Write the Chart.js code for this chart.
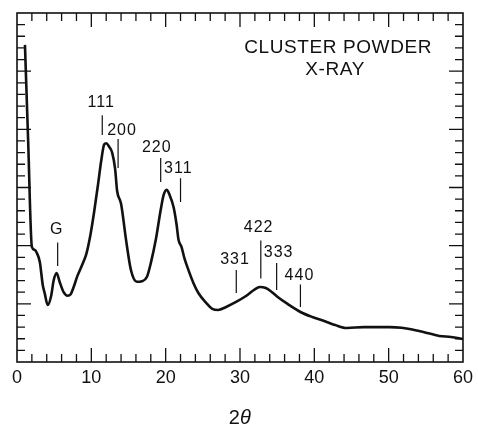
<!DOCTYPE html>
<html>
<head>
<meta charset="utf-8">
<script src="https://cdn.jsdelivr.net/npm/chart.js@4.4.1/dist/chart.umd.min.js"></script>
<style>
  body { margin: 0; background: #fff; }
  #wrap { width: 478px; height: 428px; }
</style>
</head>
<body>
<div id="wrap"><canvas id="xrd"></canvas></div>
<script>
// 2-theta values (deg) and intensity (arb. units, 0..30 frame)
const twoTheta = [1.07, 1.5, 2.0, 2.4, 2.67, 3.07, 3.47, 3.73, 4.13, 4.6, 4.93, 5.33, 5.73, 6.27, 6.8, 7.2, 7.6, 8.13, 8.8, 9.33,
  9.87, 10.4, 10.93, 11.33, 11.73, 12.0, 12.4, 12.8, 13.2, 13.47, 14.0, 14.67, 15.33, 16.13, 16.8, 17.47, 18.0, 18.67, 19.33, 19.73,
  20.13, 20.53, 21.07, 21.47, 21.73, 22.13, 22.53, 23.07, 23.73, 24.4, 25.47, 26.27, 27.07, 28.13, 29.47, 30.8, 31.87, 32.67, 33.47, 34.27,
  35.07, 36.4, 38.13, 39.73, 41.33, 42.8, 44.4, 46.67, 48.4, 50.13, 51.73, 52.8, 54.67, 56.8, 58.4, 60];
const intensity = [27.26, 19.0, 9.9, 9.63, 9.37, 8.6, 6.6, 5.9, 4.9, 5.7, 7.0, 7.65, 6.9, 6.0, 5.7, 5.8, 6.4, 7.4, 8.4, 9.3,
  10.9, 13.0, 15.4, 17.3, 18.7, 18.8, 18.5, 18.0, 16.6, 14.7, 13.6, 10.5, 7.9, 6.9, 6.95, 7.3, 8.5, 10.5, 13.07, 14.36,
  14.8, 14.36, 13.3, 11.8, 10.5, 9.9, 8.9, 7.9, 6.8, 5.93, 5.07, 4.56, 4.47, 4.73, 5.16, 5.67, 6.19, 6.45, 6.36, 6.02,
  5.59, 4.99, 4.3, 3.87, 3.53, 3.18, 2.92, 3.0, 3.0, 3.0, 2.95, 2.84, 2.58, 2.24, 2.15, 1.98];

// reflection labels: marker x, marker line from/to (y), label position
const peakNames = ["G", "111", "200", "220", "311", "331", "422", "333", "440"];
const peakX     = [5.47, 11.47, 13.6, 19.33, 22.0, 29.5, 32.8, 34.93, 38.13];
const peakTop   = [10.28, 21.2, 19.17, 17.54, 15.8, 7.91, 10.45, 8.51, 6.66];
const peakBot   = [8.25, 19.51, 16.68, 15.47, 13.75, 5.93, 7.18, 6.19, 4.73];
const labelX    = [5.33, 11.33, 14.13, 18.8, 21.7, 29.33, 32.5, 35.2, 38.0];
const labelY    = [11.35, 22.3, 19.86, 18.4, 16.6, 8.77, 11.52, 9.37, 7.39];

const titleLines = ["CLUSTER POWDER", "X-RAY"];
const titleX = [43.2, 42.8];
const titleY = [27.0, 25.1];

const ink = "#111";

// frame, inward ticks, reflection markers and title
const decor = {
  id: "decor",
  afterDatasetsDraw(chart) {
    const ctx = chart.ctx;
    const a = chart.chartArea;
    const xs = chart.scales.x;
    const ys = chart.scales.y;
    ctx.save();
    ctx.strokeStyle = ink;
    ctx.lineWidth = 1.6;
    ctx.strokeRect(a.left, a.top, a.right - a.left, a.bottom - a.top);

    ctx.lineWidth = 1.3;
    ctx.beginPath();
    for (let v = 2; v < 60; v += 2) {
      const px = xs.getPixelForValue(v);
      const len = v % 10 === 0 ? 14 : 8;
      ctx.moveTo(px, a.bottom); ctx.lineTo(px, a.bottom - len);
      ctx.moveTo(px, a.top); ctx.lineTo(px, a.top + len);
    }
    for (let v = 1; v < 30; v++) {
      const py = ys.getPixelForValue(v);
      const len = v % 5 === 0 ? 14 : 8;
      ctx.moveTo(a.left, py); ctx.lineTo(a.left + len, py);
      ctx.moveTo(a.right, py); ctx.lineTo(a.right - len, py);
    }
    ctx.stroke();

    // reflection markers
    ctx.lineWidth = 1.2;
    ctx.beginPath();
    peakX.forEach((x, i) => {
      const px = xs.getPixelForValue(x);
      ctx.moveTo(px, ys.getPixelForValue(peakTop[i]));
      ctx.lineTo(px, ys.getPixelForValue(peakBot[i]));
    });
    ctx.stroke();

    ctx.fillStyle = ink;
    ctx.textAlign = "center";
    ctx.textBaseline = "middle";
    ctx.font = "16px 'Liberation Sans'";
    ctx.letterSpacing = "1px";
    peakNames.forEach((n, i) => {
      ctx.fillText(n, xs.getPixelForValue(labelX[i]), ys.getPixelForValue(labelY[i]));
    });

    ctx.font = "19px 'Liberation Sans'";
    ctx.letterSpacing = "0.6px";
    titleLines.forEach((t, i) => {
      ctx.fillText(t, xs.getPixelForValue(titleX[i]), ys.getPixelForValue(titleY[i]));
    });
    ctx.letterSpacing = "0px";

    // axis title 2θ
    const cx = (a.left + a.right) / 2;
    const ty = 418;
    ctx.font = "20px 'Liberation Sans'";
    ctx.textAlign = "right";
    ctx.fillText("2", cx, ty);
    ctx.font = "italic 20px 'Liberation Sans'";
    ctx.textAlign = "left";
    ctx.fillText("\u03b8", cx, ty);
    ctx.restore();
  }
};

new Chart(document.getElementById("xrd"), {
  type: "scatter",
  data: {
    datasets: [{
      data: twoTheta.map((t, i) => ({ x: t, y: intensity[i] })),
      showLine: true,
      borderColor: ink,
      borderWidth: 2.6,
      pointRadius: 0,
      cubicInterpolationMode: "monotone",
      borderJoinStyle: "round"
    }]
  },
  options: {
    responsive: true,
    maintainAspectRatio: false,
    animation: false,
    layout: { padding: { left: 17, right: 11, top: 13, bottom: 0 } },
    plugins: { legend: { display: false }, tooltip: { enabled: false } },
    scales: {
      x: {
        type: "linear",
        min: 0,
        max: 60,
        grid: { display: false, drawTicks: false },
        border: { display: false },
        ticks: {
          stepSize: 10,
          color: ink,
          padding: 5,
          font: { family: "'Liberation Sans'", size: 18 }
        },
        afterFit: (s) => { s.height = 66; }
      },
      y: {
        display: false,
        min: 0,
        max: 30
      }
    }
  },
  plugins: [decor]
});
</script>
</body>
</html>
